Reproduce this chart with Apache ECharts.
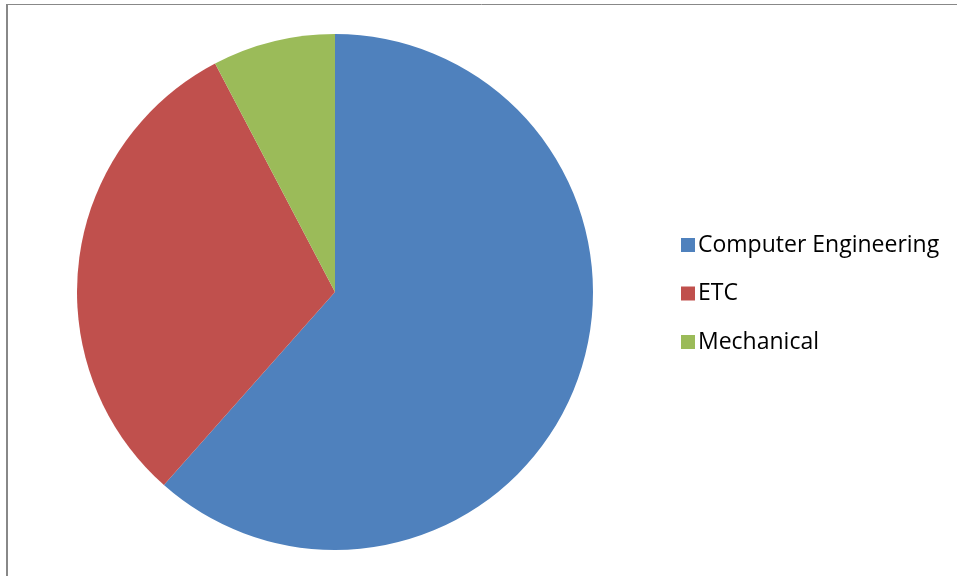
<!DOCTYPE html>
<html><head><meta charset="utf-8">
<script src="https://cdn.jsdelivr.net/npm/echarts@6/dist/echarts.min.js"></script>
<style>html,body{margin:0;padding:0;background:#fff}#c{width:957px;height:576px}</style>
</head><body><div id="c"></div>
<script>
const categories = ["Computer Engineering", "ETC", "Mechanical"];
const values = [8, 4, 1];
const colors = ["#4F81BD", "#C0504D", "#9BBB59"];

const chart = echarts.init(document.getElementById('c'), null, {renderer: 'canvas'});
chart.setOption({
  animation: false,
  backgroundColor: '#fff',
  color: colors,
  legend: {
    orient: 'vertical',
    left: 676,
    top: 228,
    itemWidth: 14,
    itemHeight: 14,
    itemGap: 24.5,
    icon: 'rect',
    textStyle: {fontFamily: 'Open Sans', fontSize: 23, color: '#000', lineHeight: 24, padding: [0,0,0,-2]},
    data: categories
  },
  graphic: [
    {type: 'line', shape: {x1: 7, y1: 4, x2: 7, y2: 576}, style: {stroke: '#888', lineWidth: 2}},
    {type: 'line', shape: {x1: 6, y1: 4.5, x2: 957, y2: 4.5}, style: {stroke: '#888', lineWidth: 1}}
  ],
  series: [{
    type: 'pie',
    center: [335, 292],
    radius: 258,
    startAngle: 90,
    clockwise: true,
    label: {show: false},
    labelLine: {show: false},
    emphasis: {disabled: true},
    data: categories.map((n, i) => ({name: n, value: values[i]}))
  }]
});
</script></body></html>
